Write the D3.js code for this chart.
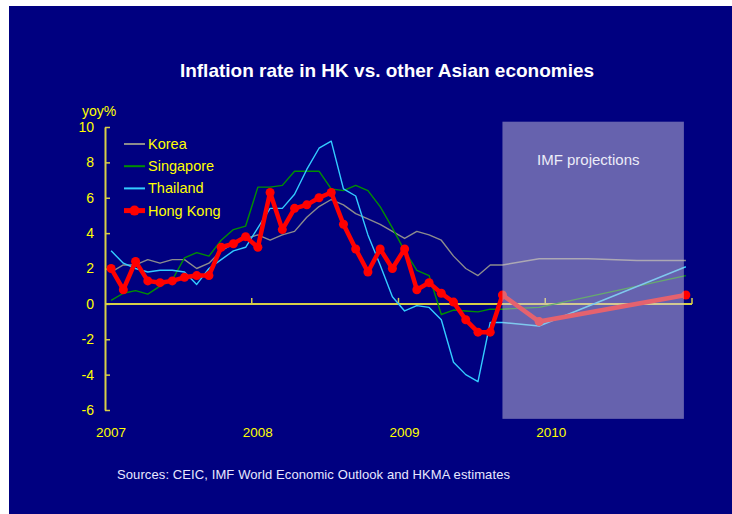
<!DOCTYPE html>
<html>
<head>
<meta charset="utf-8">
<script src="https://cdn.jsdelivr.net/npm/d3@7"></script>
<style>
  html, body { margin: 0; padding: 0; background: #ffffff; }
  svg { display: block; }
  text { font-family: "Liberation Sans", Arial, sans-serif; }
</style>
</head>
<body>
<svg id="chart" width="732" height="514"></svg>
<script>
// Monthly categories, Jan 2007 – Dec 2010
const years = [2007, 2008, 2009, 2010];
const months = years.flatMap(y => d3.range(1, 13).map(m => `${y}-${String(m).padStart(2, "0")}`));

// Year-on-year inflation (%); null = no observation for that month
const korea = [
  1.8, 2.2, 2.2, 2.5, 2.3, 2.5, 2.5, 2.0, 2.3, 3.0, 3.4, 3.7,
  3.9, 3.6, 3.9, 4.1, 4.9, 5.5, 5.9, 5.6, 5.1, 4.8, 4.5, 4.1,
  3.7, 4.1, 3.9, 3.6, 2.7, 2.0, 1.6, 2.2, 2.2, null, null, 2.55,
  null, null, null, 2.55, null, null, null, 2.45, null, null, null, 2.45
];
const singapore = [
  0.2, 0.6, 0.75, 0.55, 1.0, 1.35, 2.6, 2.9, 2.7, 3.6, 4.2, 4.4,
  6.6, 6.6, 6.7, 7.5, 7.5, 7.5, 6.5, 6.4, 6.7, 6.4, 5.5, 4.3,
  3.0, 1.9, 1.6, -0.6, -0.35, -0.4, -0.45, -0.3, -0.3, null, null, -0.2,
  null, null, null, null, null, null, null, null, null, null, null, 1.6
];
const thailand = [
  3.0, 2.3, 2.0, 1.8, 1.9, 1.9, 1.8, 1.1, 2.0, 2.5, 3.0, 3.2,
  4.3, 5.4, 5.4, 6.2, 7.6, 8.8, 9.2, 6.5, 6.1, 3.9, 2.2, 0.4,
  -0.4, -0.1, -0.2, -0.9, -3.3, -4.0, -4.4, -1.05, -1.05, null, null, -1.25,
  null, null, null, null, null, null, null, null, null, null, null, 2.1
];
const hongKong = [
  2.0, 0.8, 2.4, 1.3, 1.2, 1.3, 1.5, 1.6, 1.6, 3.2, 3.4, 3.8,
  3.2, 6.3, 4.2, 5.4, 5.6, 6.0, 6.3, 4.5, 3.1, 1.8, 3.1, 2.0,
  3.1, 0.8, 1.2, 0.6, 0.1, -0.9, -1.6, -1.6, 0.5, null, null, -1.0,
  null, null, null, null, null, null, null, null, null, null, null, 0.5
];

const seriesNames = ["Korea", "Singapore", "Thailand", "Hong Kong"];
const seriesColors = ["#8c8c8c", "#009000", "#33ccff", "#ff0000"];
const yTicks = [-6, -4, -2, 0, 2, 4, 6, 8, 10];
const projectionStart = "2009-09";
const projectionEnd = "2010-12";

const series = [korea, singapore, thailand, hongKong].map((vals, k) => ({
  name: seriesNames[k],
  color: seriesColors[k],
  points: months.map((m, i) => ({ m, v: vals[i] })).filter(d => d.v !== null)
}));

const svg = d3.select("#chart");

// Navy panel
svg.append("rect").attr("x", 9).attr("y", 6).attr("width", 723).attr("height", 508).attr("fill", "#000080");

const x = d3.scaleBand().domain(months).range([105, 692]).paddingInner(0).paddingOuter(0);
const xc = m => x(m) + x.bandwidth() / 2;
const y = d3.scaleLinear().domain([-6, 10]).range([410, 127]);

// Title
svg.append("text")
  .attr("x", 387).attr("y", 77)
  .attr("text-anchor", "middle")
  .attr("fill", "#ffffff")
  .attr("font-weight", "bold")
  .attr("font-size", 19)
  .text("Inflation rate in HK vs. other Asian economies");

// Y axis
const yAxis = svg.append("g")
  .attr("transform", `translate(${x.range()[0]},0)`)
  .call(d3.axisLeft(y).tickValues(yTicks).tickFormat(d => String(d))
    .tickSize(-5).tickSizeOuter(0).tickPadding(11));
yAxis.select(".domain").attr("stroke", "#d8cf48").attr("stroke-width", 2);
yAxis.selectAll(".tick line").attr("stroke", "#d8cf48").attr("stroke-width", 1.5);
yAxis.selectAll(".tick text")
  .attr("fill", "#ffff00")
  .attr("font-size", 14)
  .attr("font-family", "'Liberation Sans', Arial, sans-serif");

svg.append("text")
  .attr("x", 82).attr("y", 116)
  .attr("fill", "#ffff00")
  .attr("font-size", 14)
  .text("yoy%");

// X axis along zero, with year ticks pointing up
const yearStarts = years.slice(1).map(yr => `${yr}-01`);
const xAxisG = svg.append("g");
xAxisG.append("line")
  .attr("x1", x.range()[0]).attr("x2", x.range()[1])
  .attr("y1", y(0)).attr("y2", y(0))
  .attr("stroke", "#d8cf48").attr("stroke-width", 2);
xAxisG.selectAll("line.tick")
  .data(yearStarts.map(m => x(m)).concat([x.range()[1]]))
  .join("line")
  .attr("class", "tick")
  .attr("x1", d => d).attr("x2", d => d)
  .attr("y1", y(0)).attr("y2", y(0) - 6)
  .attr("stroke", "#d8cf48").attr("stroke-width", 1.5);

svg.selectAll("text.year")
  .data(years)
  .join("text")
  .attr("class", "year")
  .attr("x", yr => xc(`${yr}-01`))
  .attr("y", 437)
  .attr("text-anchor", "middle")
  .attr("fill", "#ffff00")
  .attr("font-size", 13.5)
  .text(yr => yr);

// Series lines
const line = d3.line().x(d => xc(d.m)).y(d => y(d.v));
const lines = svg.append("g");
series.forEach(s => {
  const isHK = s.name === "Hong Kong";
  lines.append("path")
    .datum(s.points)
    .attr("fill", "none")
    .attr("stroke", s.color)
    .attr("stroke-width", isHK ? 4.5 : 1.4)
    .attr("stroke-linejoin", "round")
    .attr("d", line);
  if (isHK) {
    lines.selectAll("circle.hk")
      .data(s.points)
      .join("circle")
      .attr("class", "hk")
      .attr("cx", d => xc(d.m))
      .attr("cy", d => y(d.v))
      .attr("r", 4.5)
      .attr("fill", s.color);
  }
});

// Shaded projection window
svg.append("rect")
  .attr("x", xc(projectionStart))
  .attr("y", y(10.3))
  .attr("width", xc(projectionEnd) - 2 - xc(projectionStart))
  .attr("height", y(-6.5) - y(10.3))
  .attr("fill", "#ccc4dc")
  .attr("fill-opacity", 0.5);

svg.append("text")
  .attr("x", 537).attr("y", 165)
  .attr("fill", "#ececf8")
  .attr("font-size", 15)
  .text("IMF projections");

// Legend
const legend = svg.append("g");
series.forEach((s, i) => {
  const ly = 144 + i * 22.2;
  const isHK = s.name === "Hong Kong";
  legend.append("line")
    .attr("x1", 124).attr("x2", 145)
    .attr("y1", ly).attr("y2", ly)
    .attr("stroke", s.color)
    .attr("stroke-width", isHK ? 5 : 2);
  if (isHK) {
    legend.append("circle").attr("cx", 134.5).attr("cy", ly).attr("r", 5).attr("fill", s.color);
  }
  legend.append("text")
    .attr("x", 148).attr("y", ly + 5)
    .attr("fill", "#ffff00")
    .attr("font-size", 14.5)
    .text(s.name);
});

// Source note
svg.append("text")
  .attr("x", 117).attr("y", 479)
  .attr("fill", "#e8e8ff")
  .attr("font-size", 13)
  .attr("textLength", 393)
  .attr("lengthAdjust", "spacing")
  .text("Sources: CEIC, IMF World Economic Outlook and HKMA estimates");
</script>
</body>
</html>
